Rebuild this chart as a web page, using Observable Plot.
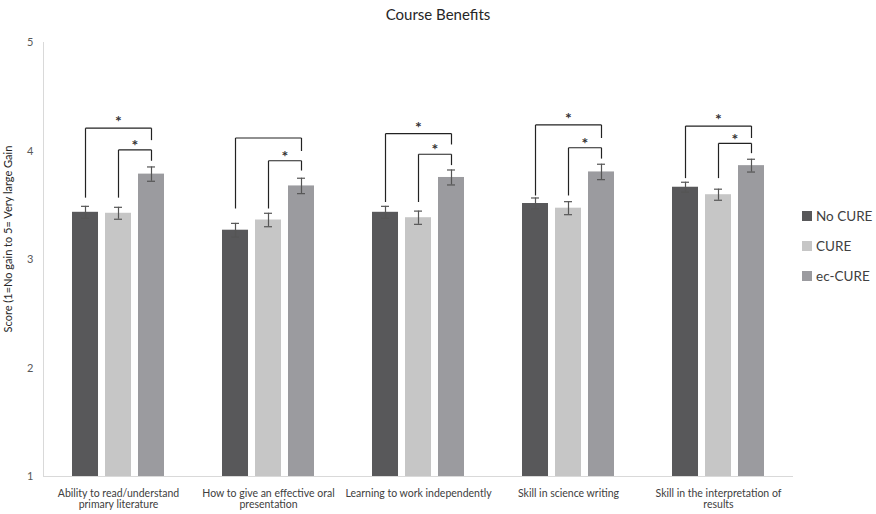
<!DOCTYPE html>
<html><head><meta charset="utf-8">
<script src="https://cdn.jsdelivr.net/npm/d3@7"></script>
<script src="https://cdn.jsdelivr.net/npm/@observablehq/plot@0.6"></script>
<style>
body{margin:0;background:#fff;font-family:Lato,sans-serif;}
#wrap{position:relative;width:876px;height:514px;overflow:hidden;}
#chart{position:absolute;left:0;top:0;}
#title{position:absolute;left:0;top:5px;width:876px;text-align:center;font-size:15px;color:#262626;}
#ylabel{position:absolute;left:-142px;top:231px;width:300px;height:16px;line-height:16px;text-align:center;font-size:11px;color:#262626;transform:rotate(-90deg);transform-origin:50% 50%;}
#legend{position:absolute;left:802px;top:201px;}
.item{display:flex;align-items:center;height:30px;font-size:13.5px;color:#404040;}
.sw{width:10px;height:10px;margin-right:4px;}
</style></head><body>
<div id="wrap"><div id="chart"></div><div id="title">Course Benefits</div><div id="ylabel">Score (1=No gain to 5= Very large Gain</div><div id="legend"></div></div>
<script>
const categories = ["Ability to read/understand primary literature","How to give an effective oral presentation","Learning to work independently","Skill in science writing","Skill in the interpretation of results"];
const categoryLabels = ["Ability to read/understand\nprimary literature","How to give an effective oral\npresentation","Learning to work independently","Skill in science writing","Skill in the interpretation of\nresults"];
const series = ["No CURE","CURE","ec-CURE"];
const colors = ["#58585a","#c6c6c6","#9b9b9f"];
const noCure = [3.435,3.27,3.435,3.516,3.666];
const noCureErr = [0.055,0.063,0.055,0.051,0.046];
const cure = [3.426,3.364,3.385,3.473,3.597];
const cureErr = [0.055,0.062,0.061,0.06,0.051];
const ecCure = [3.787,3.678,3.756,3.807,3.865];
const ecCureErr = [0.066,0.071,0.069,0.071,0.059];
const yTicks = [1,2,3,4,5];
// significance brackets (score units)
const outerLevel = [4.21,4.12,4.16,4.24,4.23];
const innerLevel = [4.01,3.91,3.97,4.03,4.07];
const leftBase = [3.57,3.47,3.53,3.59,3.75];
const outerRightEnd = [4.10,4.00,4.06,4.12,4.12];
const innerRightEnd = [3.91,3.82,3.87,3.93,3.98];
const hasOuterStar = [true,false,true,true,true];
const hasInnerStar = [true,true,true,true,true];

const values = [noCure, cure, ecCure];
const errs = [noCureErr, cureErr, ecCureErr];
const rows = [];
categories.forEach((c,i)=>series.forEach((s,j)=>rows.push({cat:c, series:s, value:values[j][i], err:errs[j][i]})));
const segs = [];
categories.forEach((c,i)=>{
  segs.push({cat:c, xa:series[0], xb:series[0], ya:leftBase[i], yb:outerLevel[i]});
  segs.push({cat:c, xa:series[0], xb:series[2], ya:outerLevel[i], yb:outerLevel[i]});
  segs.push({cat:c, xa:series[2], xb:series[2], ya:outerLevel[i], yb:outerRightEnd[i]});
  segs.push({cat:c, xa:series[1], xb:series[1], ya:leftBase[i], yb:innerLevel[i]});
  segs.push({cat:c, xa:series[1], xb:series[2], ya:innerLevel[i], yb:innerLevel[i]});
  segs.push({cat:c, xa:series[2], xb:series[2], ya:innerLevel[i], yb:innerRightEnd[i]});
});
const outerStars = categories.map((c,i)=>({cat:c, level:outerLevel[i], show:hasOuterStar[i]})).filter(d=>d.show);
const innerStars = categories.map((c,i)=>({cat:c, level:innerLevel[i], show:hasInnerStar[i]})).filter(d=>d.show);
const labelOf = new Map(categories.map((c,i)=>[c, categoryLabels[i]]));

const chart = Plot.plot({
  width: 876, height: 514,
  marginLeft: 43, marginRight: 83, marginTop: 42, marginBottom: 38,
  style: {fontFamily: "Lato, sans-serif", background: "transparent", color: "#404040"},
  fx: {domain: categories, paddingInner: 0, paddingOuter: 0, label: null},
  x: {domain: series, paddingInner: 0.212, paddingOuter: 0.879, axis: null, round: false},
  y: {domain: [1,5], axis: null},
  color: {domain: series, range: colors},
  marks: [
    Plot.frame({anchor: "left", facetAnchor: "left", stroke: "#d9d9d9"}),
    Plot.ruleY([1], {stroke: "#d9d9d9"}),
    Plot.axisY({ticks: yTicks, tickSize: 0, tickPadding: 10, tickFormat: d => String(d), label: null, fontSize: 11, color: "#595959"}),
    Plot.axisFx({anchor: "bottom", tickSize: 0, tickPadding: 12, label: null, tickFormat: c => labelOf.get(c), fontSize: 10.5, lineHeight: 1.1, color: "#404040"}),
    Plot.barY(rows, {fx: "cat", x: "series", y1: 1, y2: "value", fill: "series"}),
    Plot.ruleX(rows, {fx: "cat", x: "series", y1: d => d.value - d.err, y2: d => d.value + d.err, stroke: "#555", strokeWidth: 1.2}),
    Plot.tickY(rows, {fx: "cat", x: "series", y: d => d.value - d.err, stroke: "#555", inset: 9, strokeWidth: 1.2}),
    Plot.tickY(rows, {fx: "cat", x: "series", y: d => d.value + d.err, stroke: "#555", inset: 9, strokeWidth: 1.2}),
    Plot.link(segs, {fx: "cat", x1: "xa", x2: "xb", y1: "ya", y2: "yb", stroke: "#222", strokeWidth: 1.2}),
    Plot.text(outerStars, {fx: "cat", x: () => series[1], y: "level", text: () => "*", dy: -6, fontSize: 16, fontWeight: "bold", fill: "#333"}),
    Plot.text(innerStars, {fx: "cat", x: () => series[2], y: "level", text: () => "*", dx: -16.5, dy: -4, fontSize: 16, fontWeight: "bold", fill: "#333"})
  ]
});
document.getElementById("chart").appendChild(chart);

const legend = d3.select("#legend");
series.forEach((s,i)=>{
  const it = legend.append("div").attr("class","item");
  it.append("div").attr("class","sw").style("background", colors[i]);
  it.append("span").text(s);
});
</script>
</body></html>
